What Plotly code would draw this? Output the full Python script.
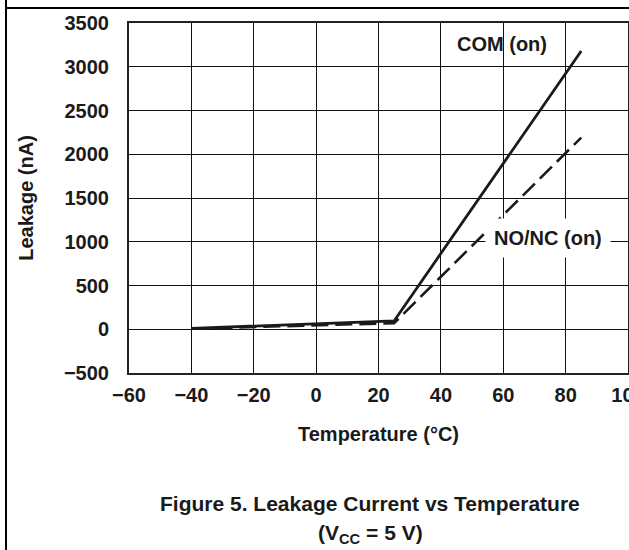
import plotly.graph_objects as go

# Data
temperature = [-40, 25, 85]
com_on = [10, 95, 3180]
nonc_on = [5, 70, 2190]

x_ticks = [-60, -40, -20, 0, 20, 40, 60, 80, 100]
y_ticks = [-500, 0, 500, 1000, 1500, 2000, 2500, 3000, 3500]

FONT = "Liberation Sans, Arial, Helvetica, sans-serif"
INK = "#1a1a1a"

W, H = 629, 550
L, R, T, B = 129, 1, 23, 177
pw = W - L - R
ph = H - T - B


def px_x(p):
    return (p - L) / pw


def px_y(p):
    return (H - B - p) / ph


fig = go.Figure()
fig.add_trace(go.Scatter(
    x=temperature, y=com_on, mode="lines", name="COM (on)",
    line=dict(color=INK, width=2.8), showlegend=False,
))
fig.add_trace(go.Scatter(
    x=temperature, y=nonc_on, mode="lines", name="NO/NC (on)",
    line=dict(color=INK, width=2.6, dash="17px,7px"), showlegend=False,
))

axis_common = dict(
    showgrid=True, gridcolor="#111", gridwidth=1,
    showline=True, linecolor="#222", linewidth=2, mirror=True,
    zeroline=False, ticks="",
    tickfont=dict(family=FONT, size=20, color=INK, weight="bold"),
)

fig.update_xaxes(
    range=[-60, 100], tickvals=x_ticks, ticklabelstandoff=3,
    ticklabeloverflow="allow",
    title=dict(text="Temperature (°C)", standoff=22,
               font=dict(family=FONT, size=20, color=INK, weight="bold")),
    **axis_common,
)
fig.update_yaxes(
    range=[-500, 3500], tickvals=y_ticks, ticklabelstandoff=14,
    title=dict(text="Leakage (nA)", standoff=25,
               font=dict(family=FONT, size=20, color=INK, weight="bold")),
    **axis_common,
)

label_font = dict(family=FONT, size=20, color=INK, weight="bold")
fig.add_annotation(x=59.6, y=3260, text="COM (on)", showarrow=False,
                   font=label_font, xanchor="center", yanchor="middle")
fig.add_annotation(x=74.3, y=1043, text="NO/NC (on)", showarrow=False,
                   font=label_font, xanchor="center", yanchor="middle",
                   bgcolor="white", borderpad=8)

cap_font = dict(family=FONT, size=21, color=INK, weight="bold")
fig.add_annotation(xref="paper", yref="paper", x=px_x(370), y=px_y(503),
                   text="Figure 5. Leakage Current vs Temperature",
                   showarrow=False, font=cap_font, xanchor="center", yanchor="middle")
fig.add_annotation(xref="paper", yref="paper", x=px_x(370), y=px_y(534),
                   text="(V<sub>CC</sub> = 5 V)",
                   showarrow=False, font=cap_font, xanchor="center", yanchor="middle")

# page frame lines of the source document
fig.add_shape(type="line", xref="paper", yref="paper",
              x0=px_x(6), x1=px_x(6), y0=px_y(0), y1=px_y(H),
              line=dict(color="#000", width=2))
fig.add_shape(type="line", xref="paper", yref="paper",
              x0=px_x(6), x1=px_x(W + 5), y0=px_y(8), y1=px_y(8),
              line=dict(color="#000", width=2))

fig.update_layout(
    width=W, height=H,
    margin=dict(l=L, r=R, t=T, b=B, autoexpand=False),
    paper_bgcolor="white", plot_bgcolor="white",
    font=dict(family=FONT, color=INK),
)

fig.write_html(
    "out.html",
    config={"displayModeBar": False},
    post_script="document.body.style.margin='0';document.body.style.overflow='hidden';",
)
